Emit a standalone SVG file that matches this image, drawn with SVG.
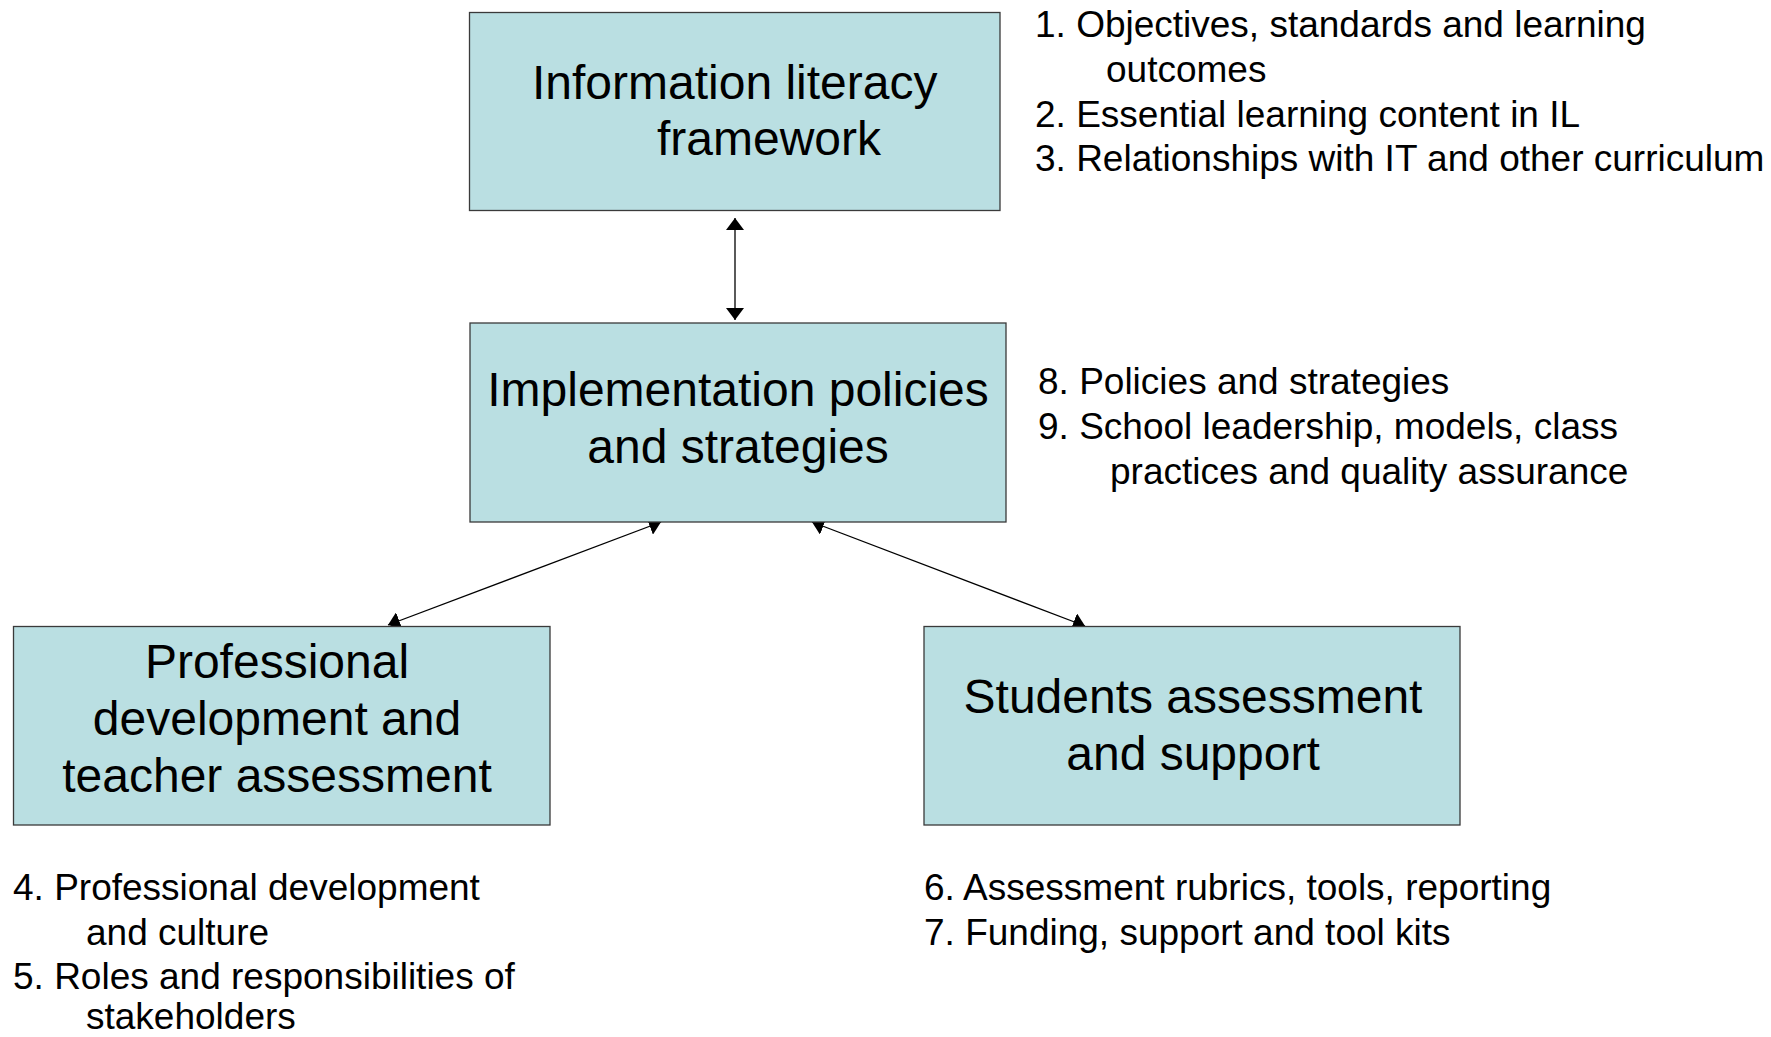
<svg xmlns="http://www.w3.org/2000/svg" width="1771" height="1037" viewBox="0 0 1771 1037">
<style>
.box{fill:#badfe2;stroke:#3a3a3a;stroke-width:1.3}
.t{font-family:"Liberation Sans",Arial,sans-serif;font-size:48px;fill:#000}
.c{text-anchor:middle}
.s{font-family:"Liberation Sans",Arial,sans-serif;font-size:37px;fill:#000}
.con{stroke:#000;stroke-width:1.3;fill:none;marker-start:url(#ah);marker-end:url(#ah)}
</style>
<defs>
<marker id="ah" viewBox="0 0 12 18" refX="12" refY="9" markerWidth="12" markerHeight="18" markerUnits="userSpaceOnUse" orient="auto-start-reverse">
<path d="M0,0 L12,9 L0,18 z" fill="#000"/>
</marker>
</defs>
<rect width="1771" height="1037" fill="#fff"/>
<g id="connectors">
<line class="con" x1="735" y1="218" x2="735" y2="320"/>
<line class="con" x1="661" y1="522" x2="388" y2="625"/>
<line class="con" x1="812" y1="522" x2="1085" y2="626"/>
</g>
<g id="node-framework">
<rect class="box" x="469.5" y="12.5" width="530.5" height="198"/>
<text class="t" x="532" y="99">Information literacy</text>
<text class="t" x="657" y="155">framework</text>
</g>
<g id="node-implementation">
<rect class="box" x="470" y="323" width="536" height="199"/>
<text class="t c" x="738" y="406">Implementation policies</text>
<text class="t c" x="738" y="463">and strategies</text>
</g>
<g id="node-professional">
<rect class="box" x="13.5" y="626.5" width="536.5" height="198.5"/>
<text class="t c" x="277" y="678">Professional</text>
<text class="t c" x="277" y="735">development and</text>
<text class="t c" x="277" y="792">teacher assessment</text>
</g>
<g id="node-students">
<rect class="box" x="924" y="626.5" width="536" height="198.5"/>
<text class="t c" x="1193" y="713">Students assessment</text>
<text class="t c" x="1193" y="770">and support</text>
</g>
<g id="notes-framework">
<text class="s" x="1035" y="37">1. Objectives, standards and learning</text>
<text class="s" x="1106" y="82">outcomes</text>
<text class="s" x="1035" y="127">2. Essential learning content in IL</text>
<text class="s" x="1035" y="171">3. Relationships with IT and other curriculum</text>
</g>
<g id="notes-implementation">
<text class="s" x="1038" y="394">8. Policies and strategies</text>
<text class="s" x="1038" y="439">9. School leadership, models, class</text>
<text class="s" x="1110" y="484">practices and quality assurance</text>
</g>
<g id="notes-professional">
<text class="s" x="13" y="900">4. Professional development</text>
<text class="s" x="86" y="945">and culture</text>
<text class="s" x="13" y="989">5. Roles and responsibilities of</text>
<text class="s" x="86" y="1029">stakeholders</text>
</g>
<g id="notes-students">
<text class="s" x="924" y="900">6. Assessment rubrics, tools, reporting</text>
<text class="s" x="924" y="945">7. Funding, support and tool kits</text>
</g>
</svg>
